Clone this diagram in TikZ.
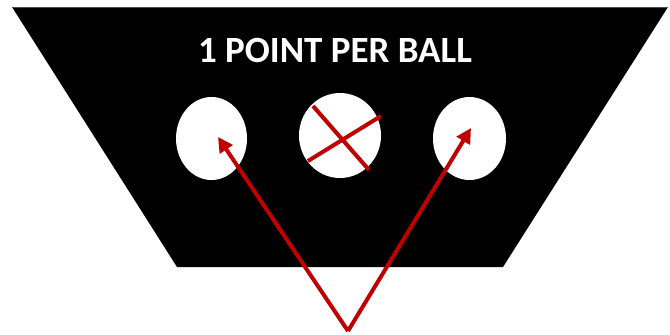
\documentclass[tikz,border=0pt]{standalone}
\usepackage{fontspec}
\setmainfont{Carlito}
\usepackage{xcolor}
\usetikzlibrary{arrows.meta, shapes.geometric}
\definecolor{markred}{RGB}{192, 0, 0}

\begin{document}
\begin{tikzpicture}[x=1pt, y=-1pt,
		hole/.style={ellipse, fill=white, inner sep=0pt},
		redline/.style={draw=markred, line width=4pt},
		pointer/.style={redline, -{Triangle[length=15pt, width=15pt]}}]
	\useasboundingbox (0,0) rectangle (670,335);

	% --- Board ---
	\fill[black] (12,7) -- (668,7) -- (503,267) -- (177,267) -- cycle;
	\draw[black!70, line width=0.8pt] (12,7) -- (668,7);

	% Title
	\node[anchor=base, text=white, font=\fontsize{37}{40}\selectfont\bfseries] (title) at (335,62) {1 POINT PER BALL};

	% Holes
	\node[hole, minimum width=71pt, minimum height=83pt] (left) at (211.5,138.5) {};
	\node[hole, minimum width=82pt, minimum height=85pt] (mid) at (340,135.5) {};
	\node[hole, minimum width=73pt, minimum height=83pt] (right) at (469.5,138.5) {};

	% Crossed out middle hole
	\draw[redline] (313,106) -- (369,170);
	\draw[redline] (308,161) -- (381,116);

	% --- Arrows ---
	\coordinate (base) at (348,331);
	\coordinate (tipL) at (218,137);
	\coordinate (tipR) at (471,128);
	\draw[pointer] (base) -- (tipL);
	\draw[pointer] (base) -- (tipR);
\end{tikzpicture}
\end{document}
